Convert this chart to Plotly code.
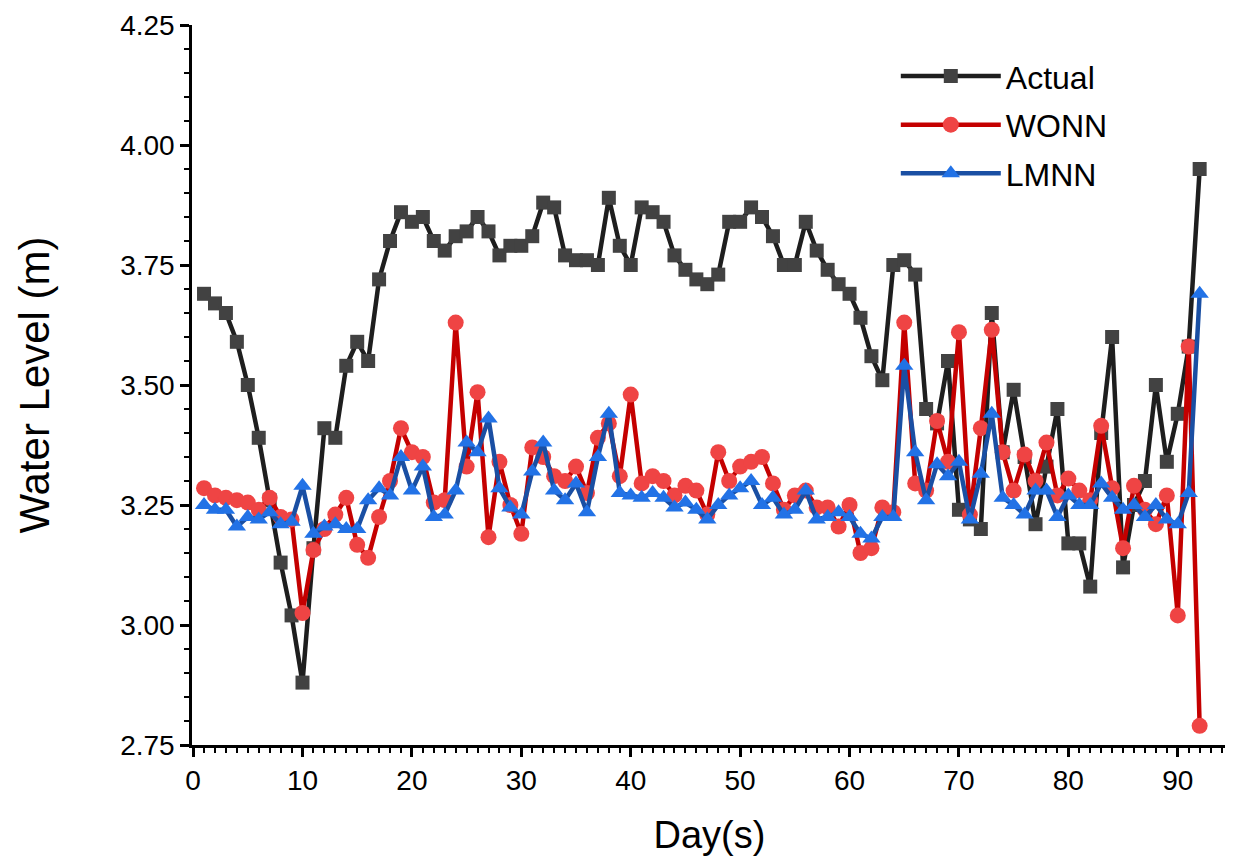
import plotly.graph_objects as go

# days 1..92
days = list(range(1, 93))

actual = [3.69, 3.67, 3.65, 3.59, 3.50, 3.39, 3.26, 3.13, 3.02, 2.88,
          3.16, 3.41, 3.39, 3.54, 3.59, 3.55, 3.72, 3.80, 3.86, 3.84,
          3.85, 3.80, 3.78, 3.81, 3.82, 3.85, 3.82, 3.77, 3.79, 3.79,
          3.81, 3.88, 3.87, 3.77, 3.76, 3.76, 3.75, 3.89, 3.79, 3.75,
          3.87, 3.86, 3.84, 3.77, 3.74, 3.72, 3.71, 3.73, 3.84, 3.84,
          3.87, 3.85, 3.81, 3.75, 3.75, 3.84, 3.78, 3.74, 3.71, 3.69,
          3.64, 3.56, 3.51, 3.75, 3.76, 3.73, 3.45, 3.42, 3.55, 3.24,
          3.22, 3.20, 3.65, 3.36, 3.49, 3.35, 3.21, 3.33, 3.45, 3.17,
          3.17, 3.08, 3.40, 3.60, 3.12, 3.25, 3.30, 3.50, 3.34, 3.44,
          3.58, 3.95]

wonn = [3.285, 3.27, 3.265, 3.26, 3.255, 3.24, 3.265, 3.225, 3.22, 3.025,
        3.156, 3.20, 3.23, 3.265, 3.167, 3.14, 3.225, 3.30, 3.41, 3.36,
        3.35, 3.255, 3.26, 3.63, 3.33, 3.485, 3.183, 3.34, 3.25, 3.19,
        3.37, 3.35, 3.31, 3.30, 3.33, 3.275, 3.39, 3.42, 3.31, 3.48,
        3.295, 3.31, 3.30, 3.27, 3.29, 3.28, 3.23, 3.36, 3.30, 3.33,
        3.34, 3.35, 3.295, 3.24, 3.27, 3.28, 3.245, 3.245, 3.205, 3.25,
        3.15, 3.16, 3.245, 3.235, 3.63, 3.295, 3.28, 3.425, 3.34, 3.61,
        3.23, 3.41, 3.615, 3.36, 3.28, 3.355, 3.30, 3.38, 3.27, 3.305,
        3.28, 3.26, 3.415, 3.285, 3.16, 3.29, 3.24, 3.21, 3.27, 3.02,
        3.58, 2.79]

lmnn = [3.25, 3.24, 3.24, 3.205, 3.225, 3.22, 3.235, 3.21, 3.215, 3.29,
        3.19, 3.205, 3.21, 3.20, 3.20, 3.26, 3.285, 3.27, 3.35, 3.28,
        3.33, 3.225, 3.23, 3.28, 3.38, 3.36, 3.43, 3.285, 3.245, 3.23,
        3.32, 3.38, 3.28, 3.26, 3.295, 3.235, 3.35, 3.44, 3.275, 3.27,
        3.265, 3.275, 3.265, 3.245, 3.255, 3.24, 3.22, 3.25, 3.27, 3.285,
        3.30, 3.25, 3.265, 3.23, 3.24, 3.28, 3.22, 3.225, 3.235, 3.225,
        3.19, 3.18, 3.225, 3.225, 3.54, 3.36, 3.26, 3.335, 3.31, 3.34,
        3.22, 3.315, 3.44, 3.265, 3.25, 3.23, 3.28, 3.28, 3.225, 3.27,
        3.25, 3.25, 3.295, 3.265, 3.24, 3.25, 3.225, 3.25, 3.22, 3.21,
        3.275, 3.69]

x_ticks = [0, 10, 20, 30, 40, 50, 60, 70, 80, 90]
y_ticks = [2.75, 3.00, 3.25, 3.50, 3.75, 4.00, 4.25]

FONT = 'Liberation Sans, Arial, sans-serif'

fig = go.Figure()
fig.add_trace(go.Scatter(
    x=days, y=actual, name='Actual', mode='lines+markers', legendgroup='a',
    line=dict(color='#1e1e1e', width=4.5),
    marker=dict(symbol='square', size=14, color='#424242')))
fig.add_trace(go.Scatter(
    x=days, y=wonn, name='WONN', mode='lines+markers', legendgroup='w',
    line=dict(color='#c40000', width=4.5),
    marker=dict(symbol='circle', size=16, color='#ef4444')))
fig.add_trace(go.Scatter(
    x=days, y=lmnn, name='LMNN', mode='lines+markers', legendgroup='l',
    line=dict(color='#1a4fa3', width=4.5),
    marker=dict(symbol='triangle-up', size=16, color='#2272e6')))

# page body adds an 8px offset, so the figure is a bit smaller than the window
fig.update_layout(
    width=1225, height=856,
    margin=dict(l=184, r=6, t=17, b=119),
    plot_bgcolor='white', paper_bgcolor='white',
    font=dict(family=FONT, color='black'),
    showlegend=True,
    legend=dict(x=0.68, y=0.967, xanchor='left', yanchor='top',
                bgcolor='rgba(0,0,0,0)', font=dict(size=32),
                itemwidth=100, tracegroupgap=4),
)
fig.update_xaxes(
    range=[-0.1, 94.5], tickvals=x_ticks, showgrid=False, zeroline=False,
    automargin=False,
    showline=True, linecolor='black', linewidth=2.5,
    ticks='outside', ticklen=9, tickwidth=2.5, tickcolor='black',
    minor=dict(dtick=1, ticks='outside', ticklen=5, tickwidth=2, tickcolor='black'),
    tickfont=dict(size=28),
    title=dict(text='Day(s)', font=dict(size=38), standoff=27),
)
# mirror=True repeats the y axis line on the right side (frame edge)
fig.update_yaxes(
    range=[2.75, 4.25], tickvals=y_ticks, tickformat='.2f',
    showgrid=False, zeroline=False, automargin=False,
    showline=True, linecolor='black', linewidth=2.5, mirror=True,
    ticks='outside', ticklen=9, tickwidth=2.5, tickcolor='black',
    minor=dict(dtick=0.05, ticks='outside', ticklen=5, tickwidth=2, tickcolor='black'),
    tickfont=dict(size=28),
    title=dict(text='Water Level (m)', font=dict(size=42), standoff=58),
)

fig.write_html("out.html")
